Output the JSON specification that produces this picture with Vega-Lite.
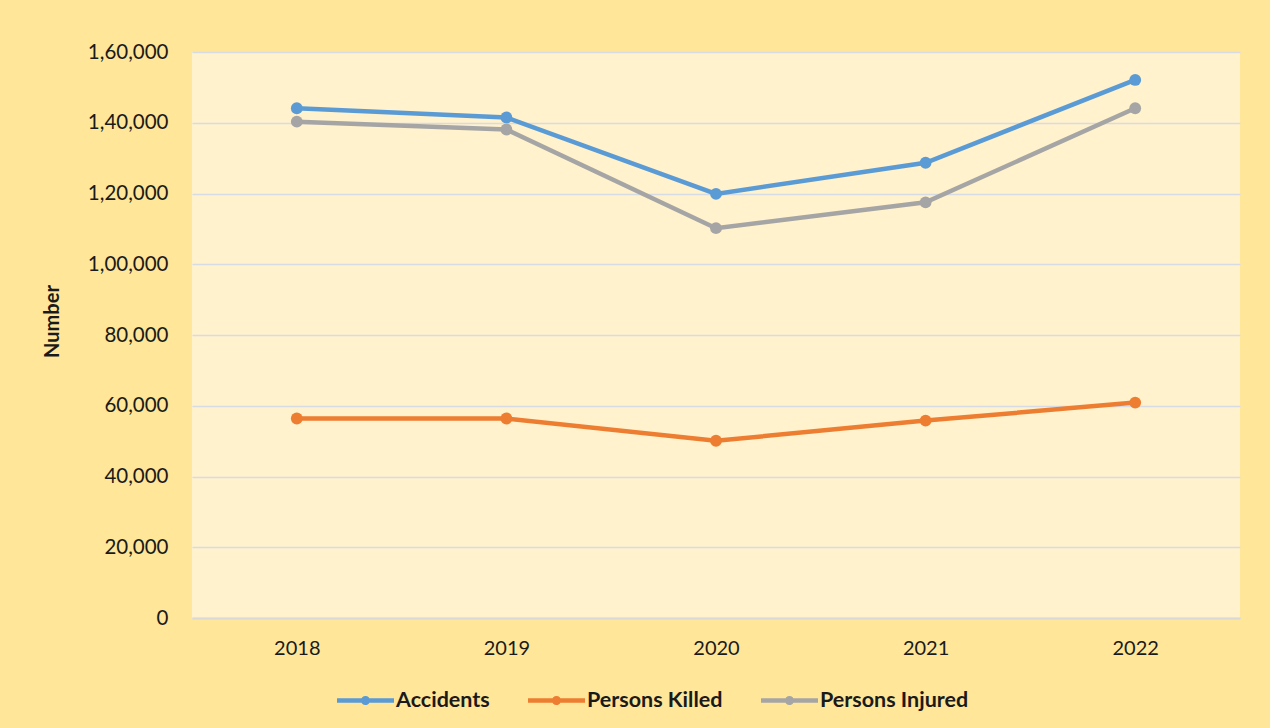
{
  "$schema": "https://vega.github.io/schema/vega-lite/v6.json",
  "autosize": {"type": "none"},
  "width": 1048,
  "height": 566,
  "padding": {"left": 192, "top": 52, "right": 30, "bottom": 110},
  "background": "#FFE699",
  "config": {
    "locale": {"number": {"decimal": ".", "thousands": ",", "grouping": [3, 2], "currency": ["₹", ""]}},
    "view": {"fill": "#FFF2CC", "stroke": null},
    "font": "Lato"
  },
  "data": {
    "values": [
      {"Year": "2018", "Series": "Accidents", "Number": 144100},
      {"Year": "2019", "Series": "Accidents", "Number": 141500},
      {"Year": "2020", "Series": "Accidents", "Number": 119900},
      {"Year": "2021", "Series": "Accidents", "Number": 128700},
      {"Year": "2022", "Series": "Accidents", "Number": 152100},
      {"Year": "2018", "Series": "Persons Killed", "Number": 56400},
      {"Year": "2019", "Series": "Persons Killed", "Number": 56400},
      {"Year": "2020", "Series": "Persons Killed", "Number": 50100},
      {"Year": "2021", "Series": "Persons Killed", "Number": 55800},
      {"Year": "2022", "Series": "Persons Killed", "Number": 60900},
      {"Year": "2018", "Series": "Persons Injured", "Number": 140300},
      {"Year": "2019", "Series": "Persons Injured", "Number": 138100},
      {"Year": "2020", "Series": "Persons Injured", "Number": 110200},
      {"Year": "2021", "Series": "Persons Injured", "Number": 117500},
      {"Year": "2022", "Series": "Persons Injured", "Number": 144100}
    ]
  },
  "mark": {"type": "line", "strokeWidth": 4.5, "point": {"filled": true, "size": 140}},
  "encoding": {
    "x": {
      "field": "Year", "type": "ordinal",
      "scale": {"type": "point", "padding": 0.5},
      "axis": {
        "title": null, "labelAngle": 0, "ticks": false,
        "domain": true, "domainColor": "#D9D9D9", "domainWidth": 2,
        "labelFont": "Lato", "labelFontSize": 20, "labelColor": "#1a1a1a",
        "labelPadding": 20, "grid": false
      }
    },
    "y": {
      "field": "Number", "type": "quantitative",
      "scale": {"domain": [0, 160000], "nice": false},
      "axis": {
        "title": "Number", "values": [0, 20000, 40000, 60000, 80000, 100000, 120000, 140000, 160000],
        "labelOverlap": false,
        "format": ",d", "ticks": false, "domain": false,
        "grid": true, "gridColor": "#D5DCE6", "gridWidth": 1.5,
        "labelFont": "Lato", "labelFontSize": 20.5, "labelColor": "#1a1a1a", "labelPadding": 24,
        "titleFont": "Lato", "titleFontSize": 20, "titleFontWeight": "bold", "titleColor": "#1a1a1a",
        "titleX": -130, "titleY": 269, "titleAngle": -90
      }
    },
    "color": {
      "field": "Series", "type": "nominal",
      "scale": {"domain": ["Accidents", "Persons Killed", "Persons Injured"], "range": ["#5B9BD5", "#ED7D31", "#A5A5A5"]},
      "legend": {
        "title": null, "orient": "none", "direction": "horizontal",
        "legendX": 145, "legendY": 620,
        "symbolType": "M-1,-0.08 L1,-0.08 L1,0.08 L-1,0.08 Z M-0.16,0 A0.16,0.16 0 1,1 0.16,0 A0.16,0.16 0 1,1 -0.16,0 Z",
        "symbolSize": 3249, "symbolStrokeWidth": 0,
        "labelFont": "Lato", "labelFontSize": 21.5, "labelFontWeight": "bold", "labelColor": "#1a1a1a",
        "labelOffset": 2, "columnPadding": 38,
        "encode": {"symbols": {"update": {"fill": {"scale": "color", "field": "value"}, "fillOpacity": {"value": 1}, "strokeWidth": {"value": 0}}}}
      }
    }
  }
}
